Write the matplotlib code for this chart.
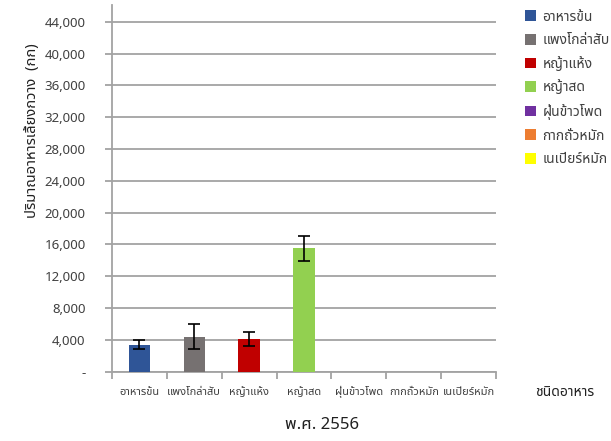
import matplotlib
matplotlib.use("Agg")
import matplotlib.pyplot as plt
from matplotlib import font_manager
from matplotlib.ft2font import FT2Font
from matplotlib.ticker import FuncFormatter
from matplotlib.patches import Patch

# Feed types (Thai), mean amount and spread for B.E. 2556
categories = ["อาหารข้น", "แพงโกล่าสับ", "หญ้าแห้ง", "หญ้าสด",
              "ฝุ่นข้าวโพด", "กากถั่วหมัก", "เนเปียร์หมัก"]
values = [3400, 4400, 4100, 15500, 0, 0, 0]
errors = [530, 1600, 840, 1550, 0, 0, 0]
colors = ["#2F5597", "#767171", "#C00000", "#92D050",
          "#7030A0", "#ED7D31", "#FFFF00"]
y_ticks = list(range(0, 44001, 4000))

y_title = "ปริมาณอาหารเลี้ยงกวาง  (กก)"
x_title = "พ.ศ. 2556"
side_title = "ชนิดอาหาร"


def thai_family():
    found = []
    for f in font_manager.fontManager.ttflist:
        try:
            if 0x0E01 in FT2Font(f.fname).get_charmap():
                if f.name not in found:
                    found.append(f.name)
        except Exception:
            pass
    for pref in ["Tahoma", "Noto Sans Thai", "Noto Sans Thai UI", "Loma",
                 "Garuda", "Sarabun", "Noto Sans"]:
        if pref in found:
            return pref
    return found[0] if found else "DejaVu Sans"


fam = [thai_family(), "DejaVu Sans"]
plt.rcParams["font.family"] = fam

fig = plt.figure(figsize=(6.11, 4.41), dpi=100)
ax = fig.add_axes([112 / 611, 69.3 / 441, (496 - 112) / 611, 366.7 / 441])

x = list(range(len(categories)))
grid_c = "#A3A3A3"
ax.bar(x, values, width=0.39, color=colors, zorder=3)
ax.errorbar(x[:4], values[:4], yerr=errors[:4], fmt="none", ecolor="black",
            elinewidth=1.2, capsize=4.2, capthick=1.2, zorder=4)

ax.set_xlim(-0.5, len(categories) - 0.5)
ax.set_ylim(0, 46100)
ax.set_yticks(y_ticks)
ax.yaxis.set_major_formatter(FuncFormatter(lambda v, p: "-" if v == 0 else f"{int(v):,}"))
ax.grid(axis="y", color=grid_c, linewidth=1.3, zorder=1)
ax.set_axisbelow(True)

for s in ["top", "right"]:
    ax.spines[s].set_visible(False)
for s in ["left", "bottom"]:
    ax.spines[s].set_color(grid_c)
    ax.spines[s].set_linewidth(1.3)

ax.tick_params(axis="y", length=5, width=1.3, color=grid_c, labelsize=9.5,
               labelcolor="#404040", pad=14)
ax.set_xticks(x)
ax.set_xticklabels(categories, fontsize=8, color="#404040")
for lab in ax.get_xticklabels():
    lab.set_verticalalignment("baseline")
ax.tick_params(axis="x", length=0, pad=17)
ax.set_xticks([i - 0.5 for i in range(len(categories) + 1)], minor=True)
ax.tick_params(axis="x", which="minor", length=5, width=1.3, color=grid_c)

ax.set_ylabel(y_title, fontsize=10.6, fontweight="bold", color="#202020")
ax.yaxis.set_label_coords(-0.188, 0.658)

fig.text(322 / 611, 1 - 425 / 441, x_title, ha="center", va="center",
         fontsize=12, color="#202020")
fig.text(565 / 611, 1 - 393 / 441, side_title, ha="center", va="center",
         fontsize=10, fontweight="bold", color="#202020")

handles = [Patch(facecolor=c, edgecolor="none") for c in colors]
leg = fig.legend(handles, categories, loc="upper left",
                 bbox_to_anchor=(519 / 611, 1 - 4 / 441), frameon=False,
                 fontsize=10, handlelength=0.8, handleheight=0.8,
                 handletextpad=0.5, labelspacing=0.62, borderaxespad=0)
for t in leg.get_texts():
    t.set_color("#404040")

fig.savefig("out.png", dpi=100)
